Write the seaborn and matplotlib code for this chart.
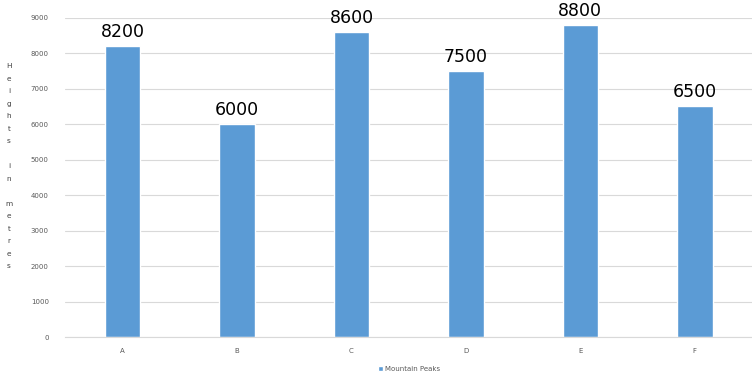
import matplotlib
matplotlib.use("Agg")
import matplotlib.pyplot as plt
import seaborn as sns
import pandas as pd

# data
peaks = ["A", "B", "C", "D", "E", "F"]
heights = [8200, 6000, 8600, 7500, 8800, 6500]
series_name = "Mountain Peaks"
y_ticks = list(range(0, 9001, 1000))

df = pd.DataFrame({"peak": peaks, "height": heights, "series": series_name})

sns.set_style("white")
fig = plt.figure(figsize=(7.52, 3.78), dpi=100)
ax = fig.add_axes([0.087, 0.108, 0.913, 0.845])

sns.barplot(data=df, x="peak", y="height", hue="series", palette=["#5B9BD5"],
            width=0.31, ax=ax, saturation=1)

ax.set_ylim(0, 9000)
ax.set_yticks(y_ticks)
ax.set_yticklabels([str(t) for t in y_ticks], fontsize=5, color="#595959")
ax.tick_params(axis="x", labelsize=5, colors="#595959", length=0, pad=8)
ax.tick_params(axis="y", length=0, pad=12)
ax.grid(axis="y", color="#D9D9D9", linewidth=0.8)
ax.set_axisbelow(True)
for s in ["top", "right", "left"]:
    ax.spines[s].set_visible(False)
ax.spines["bottom"].set_color("#D9D9D9")
ax.set_xlabel("")
ax.set_ylabel("")

# value labels above bars
for i, h in enumerate(heights):
    ax.text(i, h + 150, str(h), ha="center", va="bottom", fontsize=12.5, color="black")

# stacked letter y-axis label
label = "Heights in metres"
fig.text(0.012, 0.56, "\n".join(label), ha="center", va="center",
         fontsize=5.3, color="#404040", linespacing=2.3)

ax.legend(loc="upper center", bbox_to_anchor=(0.5, -0.07), frameon=False,
          fontsize=5, handlelength=0.7, handleheight=0.7, handletextpad=0.3,
          labelcolor="#595959")

fig.savefig("out.png", dpi=100)
